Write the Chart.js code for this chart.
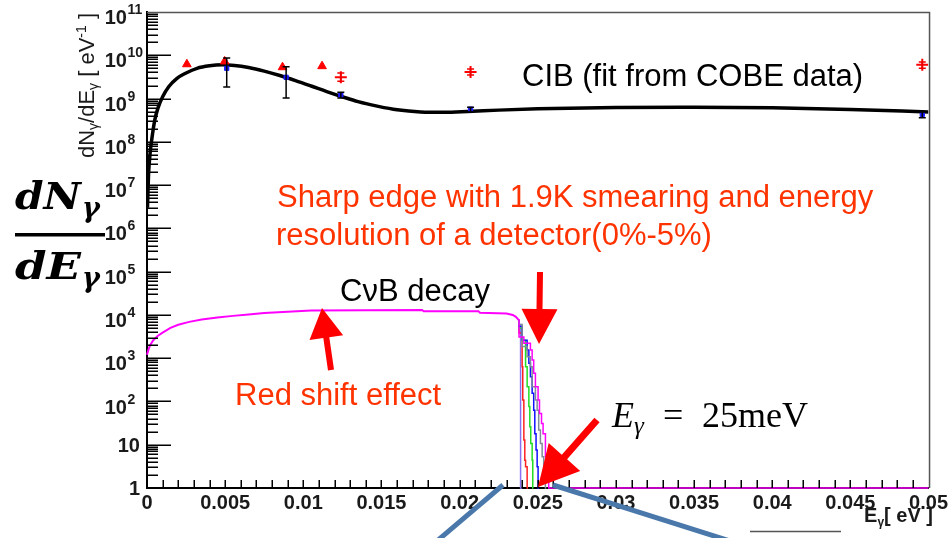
<!DOCTYPE html>
<html>
<head>
<meta charset="utf-8">
<script src="https://cdn.jsdelivr.net/npm/chart.js@4/dist/chart.umd.min.js"></script>
<style>
  html, body { margin: 0; padding: 0; background: #fff; }
  #wrap { position: relative; width: 951px; height: 538px; overflow: hidden; }
  #c { position: absolute; left: 0; top: 0; }
  #notes { position: absolute; left: 0; top: 0; pointer-events: none; }
</style>
</head>
<body>
<div id="wrap">
  <canvas id="c" width="951" height="538"></canvas>
  <svg id="notes" width="951" height="538" viewBox="0 0 951 538" xmlns="http://www.w3.org/2000/svg">
    <g id="ylabels" font-family="Liberation Sans Narrow, Liberation Sans, Arial, sans-serif" font-weight="bold" fill="#1a1a1a"></g>
    <!-- vertical axis title -->
    <text transform="translate(94,13) rotate(-90)" text-anchor="end"
          font-family="Liberation Sans, Arial, sans-serif" font-size="22" fill="#1a1a1a">dN<tspan font-size="14" dy="4">γ</tspan><tspan dy="-4">/dE</tspan><tspan font-size="14" dy="4">γ</tspan><tspan dy="-4"> [ eV</tspan><tspan font-size="14" dy="-8">-1</tspan><tspan dy="8"> ]</tspan></text>
    <!-- horizontal axis title -->
    <text x="933" y="522" text-anchor="end" font-family="Liberation Sans Narrow, Liberation Sans, Arial, sans-serif"
          font-size="20" font-weight="bold" fill="#1a1a1a">E<tspan font-size="12" dy="4">γ</tspan><tspan dy="-4">[ eV ]</tspan></text>

    <!-- big dN/dE label -->
    <g font-family="DejaVu Serif, serif" font-weight="bold" font-style="italic" fill="#000">
      <text x="15" y="209" font-size="38" textLength="66" lengthAdjust="spacingAndGlyphs">dN</text>
      <text x="82" y="217" font-size="27">γ</text>
      <rect x="15" y="233" width="90" height="3.5"/>
      <text x="15" y="279" font-size="38" textLength="66" lengthAdjust="spacingAndGlyphs">dE</text>
      <text x="82" y="287" font-size="27">γ</text>
    </g>

    <!-- annotations -->
    <g font-family="Liberation Sans, Arial, sans-serif" font-size="31">
      <text x="522" y="86" fill="#000">CIB (fit from COBE data)</text>
      <text x="277" y="207" fill="#ff3300">Sharp edge with 1.9K smearing and energy</text>
      <text x="276" y="245" fill="#ff3300">resolution of a detector(0%-5%)</text>
      <text x="340" y="301" fill="#000">CνB decay</text>
      <text x="235" y="405" fill="#ff3300">Red shift effect</text>
    </g>
    <g font-family="Liberation Serif, serif" font-size="36" fill="#000">
      <text x="612" y="427"><tspan font-style="italic">E</tspan><tspan font-style="italic" font-size="25" dy="7">γ</tspan></text>
      <text x="663" y="427">=</text>
      <text x="702" y="427">25meV</text>
    </g>

    <g id="arrows" fill="#ff0000"></g>

    <!-- callout lines -->
    <g stroke="#4a78ab" stroke-width="5" stroke-linecap="butt">
      <line x1="503" y1="485" x2="437" y2="541"/>
      <line x1="553" y1="485" x2="730" y2="541"/>
    </g>
    <line x1="750" y1="531.5" x2="841" y2="531.5" stroke="#555" stroke-width="1.5"/>
  </svg>
</div>
<script>
// ---- axis ticks ----
const xTickValues = [0, 0.005, 0.01, 0.015, 0.02, 0.025, 0.03, 0.035, 0.04, 0.045, 0.05];
const xTickLabels = ['0', '0.005', '0.01', '0.015', '0.02', '0.025', '0.03', '0.035', '0.04', '0.045', '0.05'];
const yTickValues = [1, 10, 1e2, 1e3, 1e4, 1e5, 1e6, 1e7, 1e8, 1e9, 1e10, 1e11];
const yTickLabels = ['1', '10', '10^2', '10^3', '10^4', '10^5', '10^6', '10^7', '10^8', '10^9', '10^10', '10^11'];

// ---- CIB: fit from COBE data ----
const cibFitE = [0.00003, 0.0001, 0.0002, 0.0003, 0.0005, 0.0007, 0.001, 0.0014, 0.0019, 0.0025,
  0.0032, 0.004, 0.0048, 0.0056, 0.0065, 0.0075, 0.0085, 0.0095, 0.0105, 0.0115,
  0.0125, 0.0135, 0.0148, 0.016, 0.0175, 0.019, 0.0205, 0.0225, 0.025, 0.03,
  0.035, 0.04, 0.045, 0.05];
const cibFitN = [3e6, 1.8e7, 5.5e7, 1.1e8, 3.2e8, 6e8, 1.1e9, 1.9e9, 2.9e9, 3.9e9,
  5e9, 5.7e9, 6e9, 5.8e9, 5.2e9, 4.3e9, 3.4e9, 2.6e9, 1.95e9, 1.45e9,
  1.1e9, 8.5e8, 6.6e8, 5.5e8, 4.9e8, 4.8e8, 5.0e8, 5.4e8, 5.8e8, 6.2e8,
  6.3e8, 6.1e8, 5.6e8, 4.9e8];

// measured points (blue, with error bars)
const blueE = [0.0051, 0.0089, 0.0124, 0.0207, 0.0496];
const blueN = [5.0e9, 3.1e9, 1.2e9, 5.7e8, 4.3e8];
const blueLo = [1.85e9, 1.03e9, 1.03e9, 4.9e8, 3.6e8];
const blueHi = [8.6e9, 5.4e9, 1.4e9, 6.3e8, 4.9e8];

// red crosses (with error bars)
const crossE = [0.0124, 0.0207, 0.0496];
const crossN = [3.1e9, 4.1e9, 6.0e9];
const crossLo = [2.5e9, 3.5e9, 5.0e9];
const crossHi = [3.9e9, 4.8e9, 7.0e9];

// red triangles
const triE = [0.00255, 0.00497, 0.00867, 0.0112];
const triN = [6.2e9, 7.2e9, 5.3e9, 5.6e9];

// ---- CνB decay spectrum ----
const cvbE = [0, 0.0001, 0.0002, 0.0004, 0.0007, 0.001, 0.0015, 0.002, 0.0027, 0.0035,
  0.0045, 0.0055, 0.0065, 0.0075, 0.009, 0.0105, 0.0176, 0.0177, 0.0212, 0.0213,
  0.0230, 0.0234, 0.0236, 0.0238];
const cvbN = [1.2e3, 1.6e3, 2e3, 2.6e3, 3.3e3, 3.9e3, 5e3, 5.9e3, 6.9e3, 7.8e3,
  8.7e3, 9.5e3, 1.02e4, 1.1e4, 1.18e4, 1.26e4, 1.3e4, 1.22e4, 1.22e4, 1.12e4,
  1.08e4, 1.0e4, 9e3, 7.5e3];

// edge for each smearing / resolution case
const edgePurpleE = [0.0238, 0.0239, 0.0240];
const edgePurpleN = [7.5e3, 6e3, 1];
const edgeRedE = [0.0238, 0.0240, 0.02404, 0.02411, 0.02417, 0.02422, 0.02432, 0.02438];
const edgeRedN = [7.5e3, 3.8e3, 630, 108, 12.8, 4.4, 3.1, 1];
const edgeGreenE = [0.0238, 0.0240, 0.02422, 0.02432, 0.02443, 0.02449, 0.02455, 0.02464, 0.02468, 0.02472];
const edgeGreenN = [7.5e3, 5e3, 2.6e3, 630, 219, 76, 26, 10.7, 4.4, 1];
const edgeBlueE = [0.0238, 0.0240, 0.02432, 0.02443, 0.02453, 0.02464, 0.02474, 0.02481, 0.02489, 0.02496, 0.02502, 0.02508];
const edgeBlueN = [7.5e3, 5.5e3, 2.6e3, 1.55e3, 760, 373, 154, 63, 18, 7.6, 3.1, 1];
const edgeGrayE = [0.0238, 0.0240, 0.02432, 0.02453, 0.02464, 0.02485, 0.02496, 0.02506, 0.02517, 0.02528, 0.02538, 0.02549, 0.02555];
const edgeGrayN = [7.5e3, 6e3, 1.85e3, 1.08e3, 630, 219, 108, 63, 22, 10.7, 5.3, 2.2, 1];
const edgeMagentaE = [0.0238, 0.02411, 0.02453, 0.02464, 0.02474, 0.02485, 0.02502, 0.02511, 0.02524, 0.02534, 0.02549, 0.02559, 0.0257, 0.02581, 0.05];
const edgeMagentaN = [8e3, 3.1e3, 2.2e3, 1.55e3, 908, 448, 219, 108, 53, 31, 18, 5.3, 1.5, 1, 1];

const zip = (xs, ys) => xs.map((x, i) => ({ x, y: ys[i] }));

const edge = (label, xs, ys, color) => ({
  label, data: zip(xs, ys), borderColor: color, borderWidth: 1.5,
  pointRadius: 0, stepped: 'after', fill: false, clip: 4
});

// inner ticks, frame and error bars
const framePlugin = {
  id: 'frame',
  afterDatasetsDraw(chart) {
    const { ctx, scales: { x, y } } = chart;
    ctx.save();
    ctx.lineWidth = 1.5;
    const bars = (es, los, his, color) => {
      ctx.strokeStyle = color;
      es.forEach((e, i) => {
        const px = x.getPixelForValue(e);
        const y1 = y.getPixelForValue(los[i]), y2 = y.getPixelForValue(his[i]);
        ctx.beginPath();
        ctx.moveTo(px, y1); ctx.lineTo(px, y2);
        ctx.moveTo(px - 3.5, y1); ctx.lineTo(px + 3.5, y1);
        ctx.moveTo(px - 3.5, y2); ctx.lineTo(px + 3.5, y2);
        ctx.stroke();
      });
    };
    bars(blueE, blueLo, blueHi, '#000');
    bars(crossE, crossLo, crossHi, '#e00');
    ctx.restore();
  },
  afterDraw(chart) {
    const { ctx, chartArea: a, scales: { x, y } } = chart;
    ctx.save();
    ctx.strokeStyle = '#000';
    ctx.lineWidth = 1.5;
    ctx.beginPath();
    for (let e = 0; e < 11; e++) {
      for (let m = 1; m <= 9; m++) {
        if (e === 0 && m === 1) continue;
        const py = Math.round(y.getPixelForValue(m * Math.pow(10, e))) + 0.25;
        ctx.moveTo(a.left, py);
        ctx.lineTo(a.left + (m === 1 ? 24 : 11), py);
      }
    }
    for (let i = 1; i < 50; i++) {
      const px = Math.round(x.getPixelForValue(i / 1000)) + 0.25;
      ctx.moveTo(px, a.bottom);
      ctx.lineTo(px, a.bottom - 8);
    }
    ctx.stroke();
    // top and right frame
    ctx.strokeStyle = '#555';
    ctx.beginPath();
    ctx.moveTo(a.left, a.top + 0.5);
    ctx.lineTo(a.right + 1, a.top + 0.5);
    ctx.lineTo(a.right + 1, a.bottom);
    ctx.stroke();
    ctx.restore();
  }
};

const chart = new Chart(document.getElementById('c'), {
  type: 'line',
  data: {
    datasets: [
      { label: 'triangles', data: zip(triE, triN), showLine: false, pointStyle: 'triangle',
        pointRadius: 5, backgroundColor: '#ff0000', borderColor: '#ff0000', borderWidth: 1 },
      { label: 'crosses', data: zip(crossE, crossN), showLine: false, pointStyle: 'cross',
        pointRadius: 6, borderColor: '#ff0000', borderWidth: 2 },
      { label: 'measured', data: zip(blueE, blueN), showLine: false, pointStyle: 'rect',
        pointRadius: 3, backgroundColor: '#1a1aff', borderColor: '#1a1aff', borderWidth: 1 },
      { label: 'CIB fit', data: zip(cibFitE, cibFitN), borderColor: '#000', borderWidth: 3.5,
        pointRadius: 0, cubicInterpolationMode: 'monotone', fill: false },
      { label: 'CvB', data: zip(cvbE, cvbN), borderColor: '#ff00ff', borderWidth: 2,
        pointRadius: 0, fill: false, clip: 4 },
      edge('magenta', edgeMagentaE, edgeMagentaN, '#ff00ff'),
      edge('gray', edgeGrayE, edgeGrayN, '#7f8a9a'),
      edge('blue', edgeBlueE, edgeBlueN, '#1010ff'),
      edge('green', edgeGreenE, edgeGreenN, '#22dd22'),
      edge('red', edgeRedE, edgeRedN, '#ff2020'),
      edge('purple', edgePurpleE, edgePurpleN, '#8a70f0')
    ]
  },
  options: {
    responsive: false,
    animation: false,
    devicePixelRatio: 1,
    layout: { padding: { left: 0, right: 20, top: 12, bottom: 0 } },
    plugins: { legend: { display: false }, tooltip: { enabled: false } },
    scales: {
      x: {
        type: 'linear', min: 0, max: 0.05,
        afterFit: s => { s.height = 50; },
        afterBuildTicks: s => { s.ticks = xTickValues.map(v => ({ value: v })); },
        ticks: {
          callback: (v, i) => xTickLabels[i],
          autoSkip: false, maxRotation: 0, padding: 3, color: '#1a1a1a',
          font: { family: 'Liberation Sans Narrow, Liberation Sans, Arial, sans-serif', size: 20, weight: 'bold' }
        },
        grid: { display: false, drawTicks: false },
        border: { display: true, color: '#000', width: 2 }
      },
      y: {
        type: 'logarithmic', min: 1, max: 1e11,
        afterFit: s => { s.width = 147; },
        afterBuildTicks: s => { s.ticks = yTickValues.map(v => ({ value: v })); },
        ticks: { display: false },
        grid: { display: false, drawTicks: false },
        border: { display: true, color: '#000', width: 2 }
      }
    }
  },
  plugins: [framePlugin]
});

// y tick labels as 10 with a raised exponent, placed by the y scale
const svgNS = 'http://www.w3.org/2000/svg';
const yLabelGroup = document.getElementById('ylabels');
yTickValues.forEach((v, i) => {
  const py = chart.scales.y.getPixelForValue(v);
  const [base, exp] = yTickLabels[i].split('^');
  const t = document.createElementNS(svgNS, 'text');
  t.setAttribute('font-size', '20');
  t.setAttribute('text-anchor', 'end');
  t.textContent = base;
  if (exp === undefined) {
    t.setAttribute('x', '140');
    t.setAttribute('y', (py + 7).toFixed(1));
  } else {
    t.setAttribute('x', '127');
    t.setAttribute('y', (py + 12).toFixed(1));
    const s = document.createElementNS(svgNS, 'text');
    s.setAttribute('font-size', '14');
    s.setAttribute('x', '127.5');
    s.setAttribute('y', (py + 2).toFixed(1));
    s.textContent = exp;
    yLabelGroup.appendChild(s);
  }
  yLabelGroup.appendChild(t);
});

// red arrows of the annotations
function arrowPoints(x1, y1, x2, y2, shaftW, headL, headW) {
  const dx = x2 - x1, dy = y2 - y1, len = Math.hypot(dx, dy);
  const ux = dx / len, uy = dy / len, nx = -uy, ny = ux;
  const bx = x2 - ux * headL, by = y2 - uy * headL;
  const p = [
    [x1 + nx * shaftW / 2, y1 + ny * shaftW / 2],
    [bx + nx * shaftW / 2, by + ny * shaftW / 2],
    [bx + nx * headW / 2, by + ny * headW / 2],
    [x2, y2],
    [bx - nx * headW / 2, by - ny * headW / 2],
    [bx - nx * shaftW / 2, by - ny * shaftW / 2],
    [x1 - nx * shaftW / 2, y1 - ny * shaftW / 2]
  ];
  return p.map(q => q[0].toFixed(1) + ',' + q[1].toFixed(1)).join(' ');
}
const arrowGroup = document.getElementById('arrows');
[
  [540, 272, 539, 344, 6, 35, 36],
  [331, 370, 322, 308, 6, 30, 34],
  [597, 420, 538, 487, 7, 40, 42]
].forEach(a => {
  const poly = document.createElementNS(svgNS, 'polygon');
  poly.setAttribute('points', arrowPoints(...a));
  arrowGroup.appendChild(poly);
});
</script>
</body>
</html>
